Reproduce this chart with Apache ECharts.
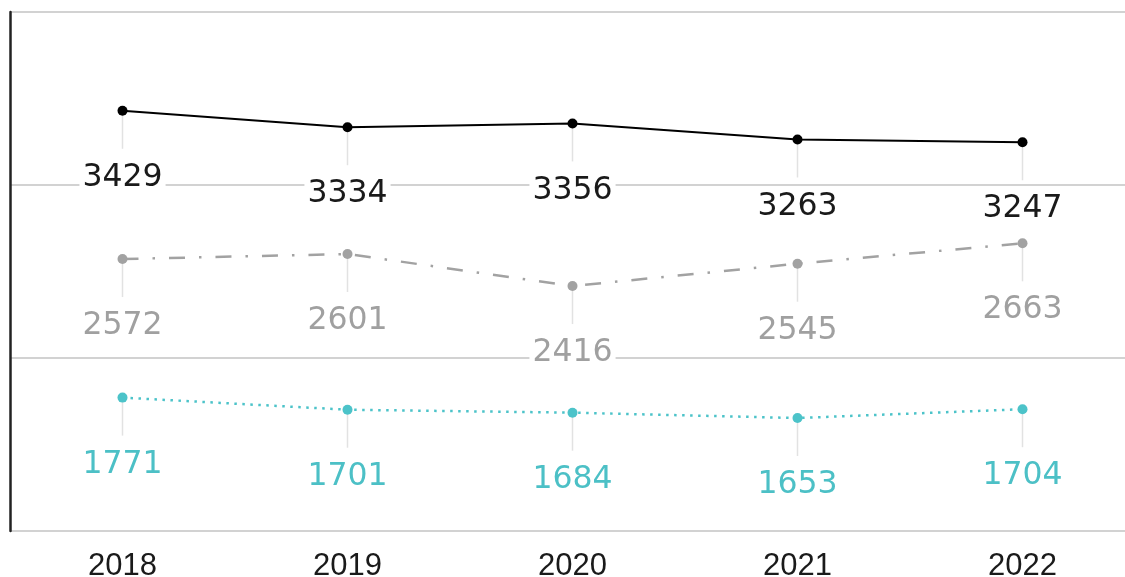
<!DOCTYPE html>
<html>
<head>
<meta charset="utf-8">
<script src="https://cdn.jsdelivr.net/npm/echarts@6/dist/echarts.min.js"></script>
<style>
  html, body { margin: 0; padding: 0; background: #fff; }
  #chart { width: 1125px; height: 577px; }
</style>
</head>
<body>
<div id="chart"></div>
<script>
const years = ['2018', '2019', '2020', '2021', '2022']
const seriesTop = [3429, 3334, 3356, 3263, 3247]
const seriesMid = [2572, 2601, 2416, 2545, 2663]
const seriesLow = [1771, 1701, 1684, 1653, 1704]

const myChart = echarts.init(document.getElementById('chart'))

// thin grey stem from each point down to its label
function stemSeries(values) {
  return {
    type: 'custom',
    silent: true,
    z: 1,
    data: values.map((v, i) => [i, v]),
    renderItem: function(params, api) {
      const p = api.coord([api.value(0), api.value(1)])
      return {
        type: 'line',
        shape: { x1: p[0], y1: p[1], x2: p[0], y2: p[1] + 38 },
        style: { stroke: '#e2e2e2', lineWidth: 1.5 }
      }
    }
  }
}

function lineSeries(values, color, textColor, lineType, width) {
  return {
    type: 'line',
    data: values,
    z: 3,
    symbol: 'circle',
    symbolSize: 10,
    itemStyle: { color: color },
    lineStyle: { color: color, width: width, type: lineType },
    label: {
      show: true,
      position: 'inside',
      offset: [0, 67],
      color: textColor,
      fontFamily: 'DejaVu Sans',
      fontSize: 31.5,
      lineHeight: 32,
      backgroundColor: '#fff',
      padding: [0, 3]
    }
  }
}

const option = {
  animation: false,
  backgroundColor: '#fff',
  // plot runs a little past the right edge, like the original
  grid: {
    left: 10,
    top: 12,
    width: 1125,
    height: 519,
    outerBoundsMode: 'none'
  },
  xAxis: {
    type: 'category',
    data: years,
    axisLine: { show: false },
    axisTick: { show: false },
    axisLabel: {
      color: '#1a1a1a',
      fontFamily: 'Liberation Sans',
      fontSize: 31,
      margin: 20
    }
  },
  yAxis: {
    type: 'value',
    min: 1000,
    max: 4000,
    interval: 1000,
    axisLine: { show: true, lineStyle: { color: '#222', width: 2.5 } },
    axisTick: { show: false },
    axisLabel: { show: false },
    splitLine: { lineStyle: { color: '#d2d2d2', width: 2 } }
  },
  series: [
    stemSeries(seriesTop),
    stemSeries(seriesMid),
    stemSeries(seriesLow),
    lineSeries(seriesTop, '#000', '#1a1a1a', 'solid', 2),
    lineSeries(seriesMid, '#a2a2a2', '#a0a0a0', [16, 14, 2.5, 14], 2.5),
    lineSeries(seriesLow, '#4cc3c9', '#4cc0c6', [2.5, 5.5], 2.5)
  ]
}

myChart.setOption(option)
</script>
</body>
</html>
